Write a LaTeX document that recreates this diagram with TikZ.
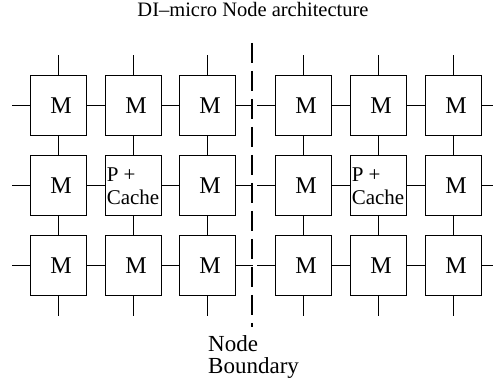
\documentclass[tikz,border=0pt]{standalone}
\usepackage{fontspec}
\setmainfont{Liberation Serif}
\begin{document}
\begin{tikzpicture}[x=1pt,y=-1pt,
  cell/.style={draw,line width=1pt,minimum width=56pt,minimum height=60pt,
    inner sep=0pt,font=\fontsize{24}{24}\selectfont},
  pcell/.style={cell,align=left,font=\fontsize{21}{22.5}\selectfont},
  wire/.style={line width=1pt},
  boundary/.style={line width=1.3pt,dash pattern=on 20pt off 8pt},
  caption/.style={font=\fontsize{20.5}{20.5}\selectfont},
  tag/.style={anchor=base west,inner sep=0pt,font=\fontsize{23}{23}\selectfont}]
\useasboundingbox (0,0) rectangle (493,382);

% title
\node[caption,anchor=base] (title) at (253,17) {DI–micro Node architecture};

% two 3x3 meshes of memory cells, processor+cache in the middle
\foreach \r/\y in {1/106,2/186,3/266}{
  \foreach \c/\xl/\xr in {1/58/303,2/133/378,3/207/453}{
    \node[cell] (L\r\c) at (\xl,\y) {\kern6pt M};
    \node[cell] (R\r\c) at (\xr,\y) {\kern6pt M};
  }
}
\node[pcell,fill=white] (L22) at (133,186) {P +\\Cache};
\node[pcell,fill=white] (R22) at (378,186) {P +\\Cache};

% mesh links
\foreach \s in {L,R}{
  \foreach \r in {1,2,3}{
    \draw[wire] (\s\r1.east) -- (\s\r2.west);
    \draw[wire] (\s\r2.east) -- (\s\r3.west);
  }
  \foreach \c in {1,2,3}{
    \draw[wire] (\s1\c.south) -- (\s2\c.north);
    \draw[wire] (\s2\c.south) -- (\s3\c.north);
    \draw[wire] (\s1\c.north) -- ++(0,-20);
    \draw[wire] (\s3\c.south) -- ++(0,20);
  }
}
\foreach \r in {1,2,3}{
  \draw[wire] (L\r1.west) -- ++(-18,0);
  \draw[wire] (L\r3.east) -- ++(17,0);
  \draw[wire] (R\r1.west) -- ++(-18,0);
  \draw[wire] (R\r3.east) -- ++(12,0);
}

% node boundary
\coordinate (btop) at (252,43);
\coordinate (bbot) at (252,327);
\draw[boundary] (btop) -- (bbot);
\node[tag] (nb1) at (208,351) {Node};
\node[tag] (nb2) at (208,373) {Boundary};
\end{tikzpicture}
\end{document}
